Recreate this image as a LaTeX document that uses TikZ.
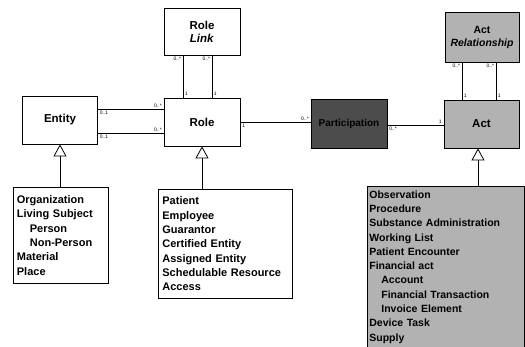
\documentclass[tikz,border=0pt]{standalone}
\usepackage{fontspec}
\setmainfont{Liberation Sans}
\usetikzlibrary{calc,arrows.meta}

\begin{document}
\begin{tikzpicture}[x=1pt,y=-1pt,
  cls/.style={draw,thick,minimum width=75pt,minimum height=48pt,align=center,
    font=\fontsize{11.5}{13}\selectfont\bfseries},
  sub/.style={draw,thick,anchor=north west,align=left,inner sep=4pt,
    font=\fontsize{11}{14.3}\selectfont\bfseries},
  mult/.style={font=\fontsize{5}{6}\selectfont,inner sep=1.5pt},
  isa/.style={-{Triangle[open,length=12pt,width=13pt]},thick},
  act/.style={fill=black!30}]
  \useasboundingbox (0,0) rectangle (525,347);
  % main classes
  \node[cls] (entity) at (60,120) {Entity};
  \node[cls,minimum width=76pt] (role) at (202,122) {Role};
  \node[cls,minimum width=76pt,minimum height=47pt] (rolelink) at (202,31.5) {Role\\\textit{Link}};
  \node[cls,fill=black!70,minimum width=76pt,minimum height=49pt,font=\fontsize{10}{12}\selectfont\bfseries] (part) at (349,123.5) {Participation};
  \node[cls,act] (act) at (481.5,124) {Act};
  \node[cls,act,minimum width=74pt,minimum height=50pt,font=\fontsize{10.5}{13}\selectfont\bfseries] (actrel) at (482,37) {Act\\\textit{Relationship}};
  % subclass lists
  \node[sub,text width=87pt,minimum height=96pt] (entsub) at (12.5,187)
    {Organization\\Living Subject\\\hspace{13pt}Person\\\hspace{13pt}Non-Person\\Material\\Place};
  \node[sub,text width=126pt,minimum height=109pt] (rolesub) at (158,189)
    {Patient\\Employee\\Guarantor\\Certified Entity\\Assigned Entity\\Schedulable Resource\\Access};
  \node[sub,act,text width=153pt,minimum height=161pt,inner sep=2pt,
    font=\fontsize{10.5}{14.3}\selectfont\bfseries] (actsub) at (367,186)
    {Observation\\Procedure\\Substance Administration\\Working List\\Patient Encounter\\Financial act\\
     \hspace{12pt}Account\\\hspace{12pt}Financial Transaction\\\hspace{12pt}Invoice Element\\Device Task\\Supply};
  % generalisation
  \draw[isa] (entsub.north -| entity.south) -- (entity.south);
  \draw[isa] (role.south |- rolesub.north) -- (role.south);
  \draw[isa] ([xshift=-3.5pt]act.south |- actsub.north) -- ([xshift=-3.5pt]act.south);
  % associations
  \draw[thick] ([yshift=11pt]entity.east) --
    node[mult,pos=0,below right] (m1) {0..1} node[mult,pos=1,above left] (m2) {0..*}
    ([yshift=11pt]entity.east -| role.west);
  \draw[thick] ([yshift=-13pt]entity.east) --
    node[mult,pos=0,below right] (m3) {0..1} node[mult,pos=1,above left] (m4) {0..*}
    ([yshift=-13pt]entity.east -| role.west);
  \foreach \dx/\n in {-19/a,10/b}
    \draw[thick] ([xshift=\dx pt]rolelink.south) --
      node[mult,pos=0,below left] (rl\n) {0..*} node[mult,pos=1,above right] (rr\n) {1}
      ([xshift=\dx pt]rolelink.south |- role.north);
  \foreach \dx/\n in {-20/a,14/b}
    \draw[thick] ([xshift=\dx pt]actrel.south) --
      node[mult,pos=0,below left] (al\n) {0..*} node[mult,pos=1,above right] (ar\n) {1}
      ([xshift=\dx pt]actrel.south |- act.north);
  \draw[thick] (role.east) --
    node[mult,pos=0,below right] (m5) {1} node[mult,pos=1,above left] (m6) {0..*}
    (role.east -| part.west);
  \draw[thick] ([yshift=-1.5pt]part.east) --
    node[mult,pos=0,below right] (m7) {0..*} node[mult,pos=1,above left] (m8) {1}
    ([yshift=-1.5pt]part.east -| act.west);
\end{tikzpicture}
\end{document}
